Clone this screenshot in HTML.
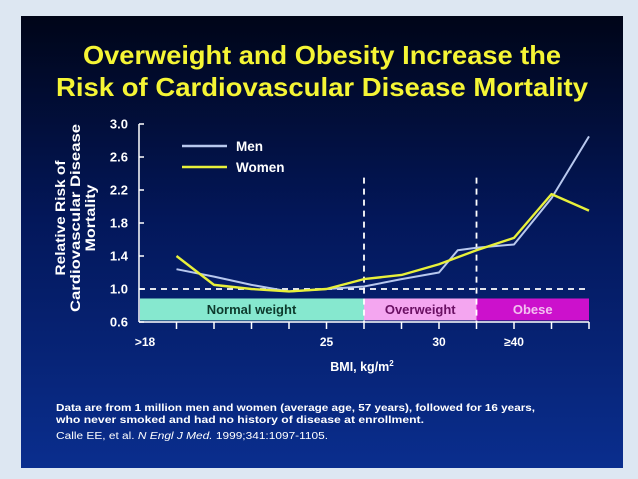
<!DOCTYPE html>
<html><head><meta charset="utf-8"><style>
html,body{margin:0;padding:0;background:#dde7f2;}
svg{display:block;font-family:"Liberation Sans",sans-serif;}
</style></head><body>
<svg width="638" height="479" viewBox="0 0 638 479">
<defs><linearGradient id="bg" x1="0" y1="0" x2="0" y2="1">
<stop offset="0" stop-color="#000518"/><stop offset="0.45" stop-color="#03175a"/><stop offset="1" stop-color="#0a2e8e"/></linearGradient></defs>
<rect x="0" y="0" width="638" height="479" fill="#dde7f2"/>
<rect x="21" y="16" width="602" height="452" fill="url(#bg)"/>
<g fill="#f5f535" font-weight="bold" font-size="26" text-anchor="middle">
<text x="322" y="64" textLength="478" lengthAdjust="spacingAndGlyphs">Overweight and Obesity Increase the</text>
<text x="322" y="96" textLength="532" lengthAdjust="spacingAndGlyphs">Risk of Cardiovascular Disease Mortality</text>
</g>
<g id="plot"></g>
<g fill="#fff" font-size="10.5">
<text x="56" y="411" font-weight="bold" textLength="479" lengthAdjust="spacingAndGlyphs">Data are from 1 million men and women (average age, 57 years), followed for 16 years,</text>
<text x="56" y="423" font-weight="bold" textLength="368" lengthAdjust="spacingAndGlyphs">who never smoked and had no history of disease at enrollment.</text>
<text x="56" y="439" font-size="10" textLength="272" lengthAdjust="spacingAndGlyphs">Calle EE, et al. <tspan font-style="italic">N Engl J Med.</tspan> 1999;341:1097-1105.</text>
</g>
</svg>
<script>
const yTicks=[0.6,1.0,1.4,1.8,2.2,2.6,3.0];
const yTickLabels=["0.6","1.0","1.4","1.8","2.2","2.6","3.0"];
const xLabelPos=[0,5,8,10];
const xLabels=[">18","25","30","\u226540"];
const menX=[1,2,3,4,5,6,7,8,8.5,9,10,11,12];
const menY=[1.24,1.15,1.05,0.97,1.0,1.03,1.12,1.2,1.47,1.5,1.54,2.1,2.85];
const womenX=[1,2,3,4,5,6,7,8,9,10,11,12];
const womenY=[1.4,1.05,1.0,0.97,1.0,1.12,1.17,1.3,1.47,1.62,2.15,1.95];
const bandNames=["Normal weight","Overweight","Obese"];
const bandStart=[0,6,9];
const bandEnd=[6,9,12];
const cutoffs=[6,9];

const NS="http://www.w3.org/2000/svg";
const g=document.getElementById('plot');
const X0=139,X1=589,Y0=322,Y1=124;
const xs=i=>X0+i*(X1-X0)/12;
const ys=v=>Y0-(v-0.6)*(Y0-Y1)/2.4;
function mk(t,a,p){const e=document.createElementNS(NS,t);for(const k in a)e.setAttribute(k,a[k]);(p||g).appendChild(e);return e;}

const bandFill=["#86e8cf","#f4a6f0","#cc11cc"];
const bandText=["#0d3a2c","#6a1063","#f3c0f0"];
bandNames.forEach((n,i)=>{
 const r=mk('rect',{x:xs(bandStart[i])+(i==0?1:0),y:ys(0.885),width:xs(bandEnd[i])-xs(bandStart[i]),height:ys(0.62)-ys(0.885),fill:bandFill[i]});
 
 
 const t=mk('text',{x:(xs(bandStart[i])+xs(bandEnd[i]))/2,y:ys(0.75)+4.5,'text-anchor':'middle','font-size':13,'font-weight':'bold',fill:bandText[i]});
 t.textContent=n;
 
 
});
const ya=mk('line',{x1:X0,y1:Y1,x2:X0,y2:Y0,stroke:'#fff','stroke-width':1.5});


const xa=mk('line',{x1:X0,y1:Y0,x2:X1,y2:Y0,stroke:'#fff','stroke-width':1.5});


yTicks.forEach((v,i)=>{
 mk('line',{x1:X0,y1:ys(v),x2:X0+5,y2:ys(v),stroke:'#fff','stroke-width':1.5});
 const t=mk('text',{x:X0-11,y:ys(v)+4.5,'text-anchor':'end','font-size':13,'font-weight':'bold',fill:'#fff'});
 t.textContent=yTickLabels[i];
 
 
});
for(let i=1;i<=12;i++)mk('line',{x1:xs(i),y1:Y0,x2:xs(i),y2:Y0+7,stroke:'#fff','stroke-width':1.5});
xLabels.forEach((l,i)=>{
 const t=mk('text',{x:xs(xLabelPos[i])+(i==0?6:0),y:346,'text-anchor':'middle','font-size':12,'font-weight':'bold',fill:'#fff'});
 t.textContent=l;
 
 
});
const bt=mk('text',{x:362,y:371,'text-anchor':'middle','font-size':12.5,'font-weight':'bold',fill:'#fff'});
bt.innerHTML='BMI, kg/m<tspan dy="-5" font-size="8">2</tspan>';


const yt=mk('text',{transform:'translate(65,218) rotate(-90)','text-anchor':'middle','font-size':14,'font-weight':'bold',fill:'#fff'});
yt.innerHTML='<tspan x="0" y="0" textLength="115" lengthAdjust="spacingAndGlyphs">Relative Risk of</tspan><tspan x="0" y="15" textLength="188" lengthAdjust="spacingAndGlyphs">Cardiovascular Disease</tspan><tspan x="0" y="30" textLength="67" lengthAdjust="spacingAndGlyphs">Mortality</tspan>';


const rl=mk('line',{x1:X0,y1:ys(1),x2:X1,y2:ys(1),stroke:'#fff','stroke-width':1.8,'stroke-dasharray':'6 5'});


cutoffs.forEach(c=>{
 const l=mk('line',{x1:xs(c),y1:ys(2.35),x2:xs(c),y2:Y0,stroke:'#fff','stroke-width':1.8,'stroke-dasharray':'6 5'});
 
 
});
function series(xa,ya,col,w,name){
 const p=mk('polyline',{points:xa.map((x,i)=>xs(x)+','+ys(ya[i])).join(' '),fill:'none',stroke:col,'stroke-width':w,'stroke-linejoin':'round'});
 
 
}
series(menX,menY,'#b8c8ee',2,'men-line');
series(womenX,womenY,'#e8f03a',2.4,'women-line');
[['Men','#b8c8ee',146],['Women','#e8f03a',167]].forEach(d=>{
 const l=mk('line',{x1:182,y1:d[2],x2:227,y2:d[2],stroke:d[1],'stroke-width':2.5});
 
 
 const t=mk('text',{x:236,y:d[2]+5,'font-size':13.5,'font-weight':'bold',fill:'#fff'});
 t.textContent=d[0];
 
 
});
</script>
</body></html>
